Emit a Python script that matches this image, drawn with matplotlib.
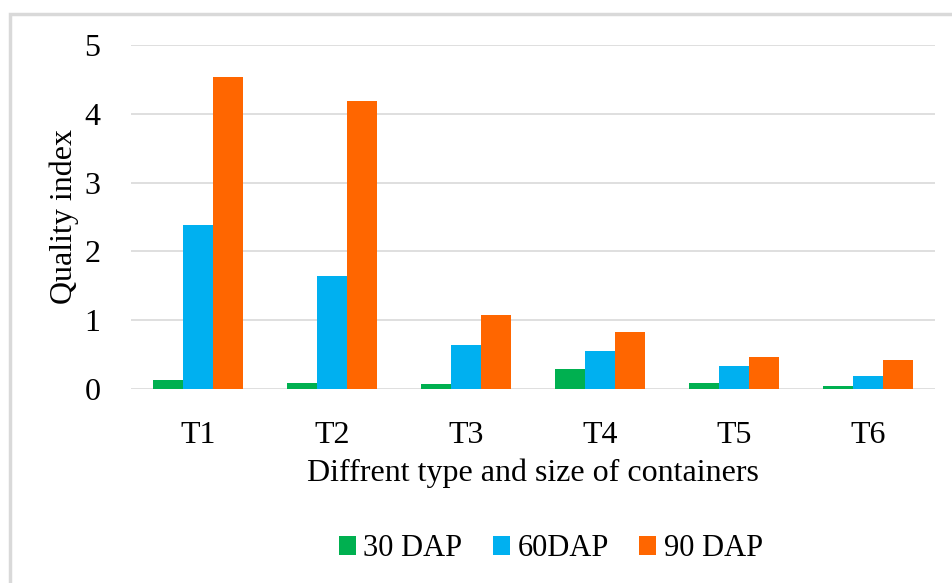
import matplotlib
matplotlib.use("Agg")
import matplotlib.pyplot as plt
import numpy as np
from matplotlib.patches import Rectangle

categories = ["T1", "T2", "T3", "T4", "T5", "T6"]
dap30 = [0.13, 0.08, 0.07, 0.29, 0.08, 0.04]
dap60 = [2.39, 1.64, 0.64, 0.55, 0.34, 0.19]
dap90 = [4.53, 4.19, 1.07, 0.83, 0.47, 0.42]
series_labels = ["30 DAP", "60DAP", "90 DAP"]
colors = ["#00B050", "#00B0F0", "#FF6600"]

plt.rcParams["font.family"] = ["Liberation Serif", "DejaVu Serif"]

fig = plt.figure(figsize=(9.52, 5.83), dpi=100)
W, H = 952, 583

# outer chart frame
fig.patches.append(Rectangle((10 / W, -0.1), 1.2, (H - 14) / H + 0.1,
                             transform=fig.transFigure, fill=False,
                             edgecolor="#D9D9D9", linewidth=2.5))

ax = fig.add_axes([131 / W, (H - 389) / H, (935 - 131) / W, (389 - 45) / H])

x = np.arange(len(categories))
bw = 0.222
for i, (vals, lab, c) in enumerate(zip([dap30, dap60, dap90], series_labels, colors)):
    ax.bar(x + (i - 1) * bw, vals, width=bw, color=c, label=lab, zorder=3)

ax.set_xlim(-0.5, len(categories) - 0.5)
ax.set_ylim(0, 5)
ax.set_yticks(range(0, 6))
ax.set_xticks(x)
ax.set_xticklabels(categories)
ax.yaxis.grid(True, color="#D9D9D9", linewidth=1.2, zorder=0)
ax.set_axisbelow(True)
for s in ax.spines.values():
    s.set_visible(False)
ax.tick_params(axis="both", length=0, labelsize=23, colors="black")
ax.tick_params(axis="y", pad=22)
ax.tick_params(axis="x", pad=23)
ax.set_ylabel("Quality index", fontsize=23, labelpad=4)
ax.set_xlabel("Diffrent type and size of containers", fontsize=23, labelpad=6)

leg = fig.legend(loc="center", bbox_to_anchor=(551 / W, 1 - 549 / H), ncol=3,
                 frameon=False, fontsize=22, handlelength=0.55, handleheight=0.55,
                 handletextpad=0.25, columnspacing=1.0)

fig.savefig("out.png", dpi=100)
